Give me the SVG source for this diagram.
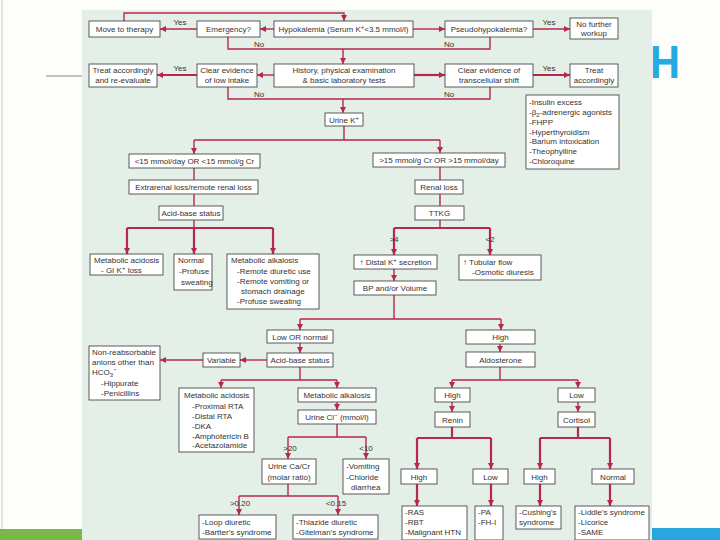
<svg xmlns="http://www.w3.org/2000/svg" width="720" height="540" viewBox="0 0 720 540">
<defs>
<marker id="ah" markerUnits="userSpaceOnUse" markerWidth="7" markerHeight="7" refX="6" refY="3" orient="auto"><path d="M0,0 L6,3 L0,6 z" fill="#b8284e"/></marker>
<style>
.bx{fill:#fff;stroke:#4a4a4a;stroke-width:0.9}
.t{font-family:"Liberation Sans",Arial,sans-serif;font-size:8px;fill:#333}
.c{text-anchor:middle}
.ln{stroke:#b8284e;fill:none;stroke-width:1.4}
.th{stroke-width:2.2}
.ar{marker-end:url(#ah)}
</style>
</defs>
<rect width="720" height="540" fill="#fdfdfb"/>
<line x1="2" y1="0" x2="2" y2="540" stroke="#c8c8c8" stroke-width="1"/>
<line x1="46" y1="76" x2="84" y2="76" stroke="#8a8a8a" stroke-width="1"/>
<text x="620" y="78" font-family="Liberation Sans,Arial,sans-serif" font-weight="bold" font-size="46" fill="#27a9e1" textLength="60" lengthAdjust="spacingAndGlyphs">CH</text>
<rect x="0" y="529" width="84" height="11" fill="#7ab648"/>
<rect x="652" y="528" width="68" height="12" fill="#2aa6df"/>
<rect x="82" y="10" width="570" height="530" fill="#e3efe7"/>

<g id="connectors">
<path class="ln" d="M124,21 V13 H344 V21" marker-end="url(#ah)"/>
<path class="ln ar" d="M274,29 H260"/>
<path class="ln ar" d="M197,29 H160"/>
<path class="ln ar" d="M413,29 H445"/>
<path class="ln ar" d="M533,29 H570"/>
<path class="ln" d="M228,37 V49 H490 V37"/>
<path class="ln ar" d="M343,49 V64"/>
<path class="ln ar" d="M274,75 H257"/>
<path class="ln th ar" d="M197,75 H157"/>
<path class="ln th ar" d="M414,75 H445"/>
<path class="ln th ar" d="M533,75 H570"/>
<path class="ln" d="M228,87 V99 H490 V87"/>
<path class="ln ar" d="M343,99 V113"/>
<path class="ln" d="M344,126 V140 M194,140 H440"/>
<path class="ln ar" d="M194,140 V154"/>
<path class="ln ar" d="M440,140 V153"/>
<path class="ln" d="M194,168 V180 M194,194 V206 M194,220 V228"/>
<path class="ln th" d="M127,228 H273"/>
<path class="ln th ar" d="M127,228 V254"/>
<path class="ln th ar" d="M194,228 V254"/>
<path class="ln th ar" d="M273,228 V254"/>
<path class="ln" d="M440,167 V180 M440,194 V206 M440,220 V228"/>
<path class="ln th" d="M394,228 H490"/>
<path class="ln th ar" d="M394,228 V255"/>
<path class="ln th ar" d="M490,228 V255"/>
<path class="ln ar" d="M394,269 V281"/>
<path class="ln" d="M394,295 V319 M300,319 H501"/>
<path class="ln ar" d="M300,319 V330"/>
<path class="ln ar" d="M501,319 V330"/>
<path class="ln ar" d="M300,343 V353"/>
<path class="ln ar" d="M500,344 V352"/>
<path class="ln ar" d="M267,360 H240"/>
<path class="ln ar" d="M203,360 H160"/>
<path class="ln" d="M300,367 V380 M221,380 H337"/>
<path class="ln ar" d="M221,380 V388"/>
<path class="ln ar" d="M337,380 V388"/>
<path class="ln ar" d="M337,402 V410"/>
<path class="ln" d="M337,424 V437 M288,437 H366"/>
<path class="ln ar" d="M288,437 V459"/>
<path class="ln ar" d="M366,437 V459"/>
<path class="ln" d="M288,484 V496 M239,496 H338"/>
<path class="ln ar" d="M239,496 V515"/>
<path class="ln ar" d="M338,496 V515"/>
<path class="ln" d="M500,367 V380 M452,380 H578"/>
<path class="ln ar" d="M452,380 V388"/>
<path class="ln ar" d="M578,380 V388"/>
<path class="ln ar" d="M452,402 V412"/>
<path class="ln ar" d="M578,402 V412"/>
<path class="ln th" d="M452,427 V438 M417,438 H491 M578,427 V438 M540,438 H610"/>
<path class="ln th ar" d="M417,438 V469"/>
<path class="ln th ar" d="M491,438 V469"/>
<path class="ln th ar" d="M540,438 V469"/>
<path class="ln th ar" d="M610,438 V469"/>
<path class="ln th ar" d="M417,484 V506"/>
<path class="ln th ar" d="M491,484 V506"/>
<path class="ln th ar" d="M540,484 V506"/>
<path class="ln th ar" d="M610,484 V506"/>
</g>

<g id="labels" class="t">
<text x="180" y="25" class="c">Yes</text>
<text x="549" y="25" class="c">Yes</text>
<text x="259" y="47" class="c">No</text>
<text x="449" y="47" class="c">No</text>
<text x="180" y="71" class="c">Yes</text>
<text x="549" y="71" class="c">Yes</text>
<text x="259" y="97" class="c">No</text>
<text x="449" y="97" class="c">No</text>
<text x="394" y="242" class="c">&gt;4</text>
<text x="490" y="242" class="c">&lt;2</text>
<text x="290" y="451" class="c">&gt;20</text>
<text x="366" y="451" class="c">&lt;10</text>
<text x="240" y="506" class="c">&gt;0.20</text>
<text x="336" y="506" class="c">&lt;0.15</text>
</g>

<g id="n_move"><rect class="bx" x="89" y="21" width="71" height="16"/><text class="t c" x="124.5" y="32">Move to therapy</text></g>
<g id="n_emerg"><rect class="bx" x="197" y="21" width="63" height="16"/><text class="t c" x="228.5" y="32">Emergency?</text></g>
<g id="n_hypo"><rect class="bx" x="274" y="21" width="139" height="16"/><text class="t c" x="343.5" y="32">Hypokalemia (Serum K<tspan font-size="6" dy="-3">+</tspan><tspan dy="3">&lt;3.5 mmol/l)</tspan></text></g>
<g id="n_pseudo"><rect class="bx" x="445" y="21" width="88" height="16"/><text class="t c" x="489" y="32">Pseudohypokalemia?</text></g>
<g id="n_nofurther"><rect class="bx" x="570" y="18" width="48" height="21"/><text class="t c" x="594" y="26.5">No further</text><text class="t c" x="594" y="36">workup</text></g>

<g id="n_treat1"><rect class="bx" x="89" y="64" width="68" height="23"/><text class="t c" x="123" y="73">Treat accordingly</text><text class="t c" x="123" y="83">and re-evaluate</text></g>
<g id="n_lowintake"><rect class="bx" x="197" y="64" width="60" height="23"/><text class="t c" x="227" y="73">Clear evidence</text><text class="t c" x="227" y="83">of low intake</text></g>
<g id="n_history"><rect class="bx" x="274" y="64" width="140" height="23"/><text class="t c" x="344" y="73">History, physical examination</text><text class="t c" x="344" y="83">&amp; basic laboratory tests</text></g>
<g id="n_transcell"><rect class="bx" x="445" y="64" width="88" height="23"/><text class="t c" x="489" y="73">Clear evidence of</text><text class="t c" x="489" y="83">transcellular shift</text></g>
<g id="n_treat2"><rect class="bx" x="570" y="64" width="48" height="23"/><text class="t c" x="594" y="73">Treat</text><text class="t c" x="594" y="83">accordingly</text></g>

<g id="n_causes"><rect class="bx" x="526" y="95" width="93" height="74"/>
<text class="t" x="529" y="105">-Insulin excess</text>
<text class="t" x="529" y="115">-β<tspan font-size="6" dy="2">2</tspan><tspan dy="-2">-adrenergic agonists</tspan></text>
<text class="t" x="529" y="124.5">-FHPP</text>
<text class="t" x="529" y="134.5">-Hyperthyroidism</text>
<text class="t" x="529" y="144">-Barium intoxication</text>
<text class="t" x="529" y="154">-Theophylline</text>
<text class="t" x="529" y="164">-Chloroquine</text>
</g>

<g id="n_urinek"><rect class="bx" x="325" y="113" width="38" height="13"/><text class="t c" x="344" y="123">Urine K<tspan font-size="6" dy="-3">+</tspan></text></g>
<g id="n_lt15"><rect class="bx" x="129" y="154" width="131" height="14"/><text class="t c" x="194.5" y="164">&lt;15 mmol/day OR &lt;15 mmol/g Cr</text></g>
<g id="n_extrarenal"><rect class="bx" x="129" y="180" width="129" height="14"/><text class="t c" x="193.5" y="190">Extrarenal loss/remote renal loss</text></g>
<g id="n_acidbase1"><rect class="bx" x="159" y="206" width="64" height="14"/><text class="t c" x="191" y="216">Acid-base status</text></g>
<g id="n_gt15"><rect class="bx" x="373" y="153" width="132" height="14"/><text class="t c" x="439" y="163">&gt;15 mmol/g Cr OR &gt;15 mmol/day</text></g>
<g id="n_renalloss"><rect class="bx" x="415" y="180" width="48" height="14"/><text class="t c" x="439" y="190">Renal loss</text></g>
<g id="n_ttkg"><rect class="bx" x="415" y="206" width="49" height="14"/><text class="t c" x="439.5" y="216">TTKG</text></g>

<g id="n_metacid1"><rect class="bx" x="90" y="254" width="73" height="21"/><text class="t" x="94" y="263">Metabolic acidosis</text><text class="t" x="101" y="273">- GI K<tspan font-size="6" dy="-3">+</tspan><tspan dy="3"> loss</tspan></text></g>
<g id="n_normal1"><rect class="bx" x="174" y="254" width="38" height="36"/><text class="t" x="178" y="263">Normal</text><text class="t" x="179" y="274">-Profuse</text><text class="t" x="181" y="285">sweating</text></g>
<g id="n_metalk1"><rect class="bx" x="227" y="254" width="92" height="55"/><text class="t" x="231" y="263">Metabolic alkalosis</text><text class="t" x="237" y="273.5">-Remote diuretic use</text><text class="t" x="237" y="283.5">-Remote vomiting or</text><text class="t" x="241" y="293.5">stomach drainage</text><text class="t" x="237" y="304">-Profuse sweating</text></g>

<g id="n_distal"><rect class="bx" x="354" y="255" width="83" height="14"/><text class="t c" x="395.5" y="265">↑ Distal K<tspan font-size="6" dy="-3">+</tspan><tspan dy="3"> secretion</tspan></text></g>
<g id="n_tubular"><rect class="bx" x="459" y="255" width="82" height="25"/><text class="t" x="463" y="265">↑ Tubular flow</text><text class="t" x="472" y="275">-Osmotic diuresis</text></g>
<g id="n_bp"><rect class="bx" x="354" y="281" width="82" height="14"/><text class="t c" x="395" y="291">BP and/or Volume</text></g>

<g id="n_lownormal"><rect class="bx" x="267" y="330" width="66" height="13"/><text class="t c" x="300" y="340">Low OR normal</text></g>
<g id="n_high1"><rect class="bx" x="466" y="330" width="69" height="14"/><text class="t c" x="500.5" y="340">High</text></g>
<g id="n_aldo"><rect class="bx" x="466" y="352" width="69" height="15"/><text class="t c" x="500.5" y="362.5">Aldosterone</text></g>
<g id="n_acidbase2"><rect class="bx" x="267" y="353" width="66" height="14"/><text class="t c" x="300" y="363">Acid-base status</text></g>
<g id="n_variable"><rect class="bx" x="203" y="353" width="37" height="14"/><text class="t c" x="221.5" y="363">Variable</text></g>
<g id="n_nonreab"><rect class="bx" x="89" y="346" width="71" height="54"/><text class="t" x="92" y="355">Non-reabsorbable</text><text class="t" x="92" y="365">anions other than</text><text class="t" x="92" y="375">HCO<tspan font-size="6" dy="2">3</tspan><tspan font-size="6" dy="-6">−</tspan></text><text class="t" x="101" y="386">-Hippurate</text><text class="t" x="101" y="396">-Penicillins</text></g>

<g id="n_metacid2"><rect class="bx" x="179" y="388" width="75" height="64"/><text class="t" x="184" y="398">Metabolic acidosis</text><text class="t" x="192" y="408.5">-Proximal RTA</text><text class="t" x="192" y="418.5">-Distal RTA</text><text class="t" x="192" y="428.5">-DKA</text><text class="t" x="192" y="438.5">-Amphotericin B</text><text class="t" x="192" y="448">-Acetazolamide</text></g>
<g id="n_metalk2"><rect class="bx" x="298" y="388" width="78" height="14"/><text class="t c" x="337" y="398">Metabolic alkalosis</text></g>
<g id="n_urinecl"><rect class="bx" x="298" y="410" width="78" height="14"/><text class="t c" x="337" y="420">Urine Cl<tspan font-size="6" dy="-3">−</tspan><tspan dy="3"> (mmol/l)</tspan></text></g>
<g id="n_caCr"><rect class="bx" x="262" y="459" width="54" height="25"/><text class="t c" x="289" y="469">Urine Ca/Cr</text><text class="t c" x="289" y="480">(molar ratio)</text></g>
<g id="n_vomit"><rect class="bx" x="343" y="459" width="46" height="35"/><text class="t" x="346" y="469">-Vomiting</text><text class="t" x="346" y="479.5">-Chloride</text><text class="t" x="351" y="490">diarrhea</text></g>
<g id="n_loop"><rect class="bx" x="199" y="515" width="77" height="24"/><text class="t" x="202" y="525">-Loop diuretic</text><text class="t" x="202" y="535">-Bartter's syndrome</text></g>
<g id="n_thiazide"><rect class="bx" x="293" y="515" width="85" height="24"/><text class="t" x="296" y="525">-Thiazide diuretic</text><text class="t" x="296" y="535">-Gitelman's syndrome</text></g>

<g id="n_high2"><rect class="bx" x="435" y="388" width="35" height="14"/><text class="t c" x="452.5" y="398">High</text></g>
<g id="n_low2"><rect class="bx" x="558" y="388" width="37" height="14"/><text class="t c" x="576.5" y="398">Low</text></g>
<g id="n_renin"><rect class="bx" x="435" y="412" width="35" height="15"/><text class="t c" x="452.5" y="423">Renin</text></g>
<g id="n_cortisol"><rect class="bx" x="558" y="412" width="37" height="15"/><text class="t c" x="576.5" y="423">Cortisol</text></g>
<g id="n_high3"><rect class="bx" x="401" y="469" width="36" height="15"/><text class="t c" x="419" y="480">High</text></g>
<g id="n_low3"><rect class="bx" x="473" y="469" width="35" height="15"/><text class="t c" x="490.5" y="480">Low</text></g>
<g id="n_high4"><rect class="bx" x="524" y="469" width="31" height="15"/><text class="t c" x="539.5" y="480">High</text></g>
<g id="n_normal2"><rect class="bx" x="592" y="469" width="42" height="15"/><text class="t c" x="613" y="480">Normal</text></g>
<g id="n_ras"><rect class="bx" x="402" y="506" width="65" height="34"/><text class="t" x="405" y="514.5">-RAS</text><text class="t" x="405" y="524.5">-RBT</text><text class="t" x="405" y="534.5">-Malignant HTN</text></g>
<g id="n_pa"><rect class="bx" x="475" y="506" width="28" height="34"/><text class="t" x="478" y="514.5">-PA</text><text class="t" x="478" y="524.5">-FH-I</text></g>
<g id="n_cushing"><rect class="bx" x="516" y="506" width="45" height="23"/><text class="t" x="519" y="514.5">-Cushing's</text><text class="t" x="519" y="524.5">syndrome</text></g>
<g id="n_liddle"><rect class="bx" x="575" y="506" width="74" height="34"/><text class="t" x="578" y="514.5">-Liddle's syndrome</text><text class="t" x="578" y="524.5">-Licorice</text><text class="t" x="578" y="534.5">-SAME</text></g>
</svg>
